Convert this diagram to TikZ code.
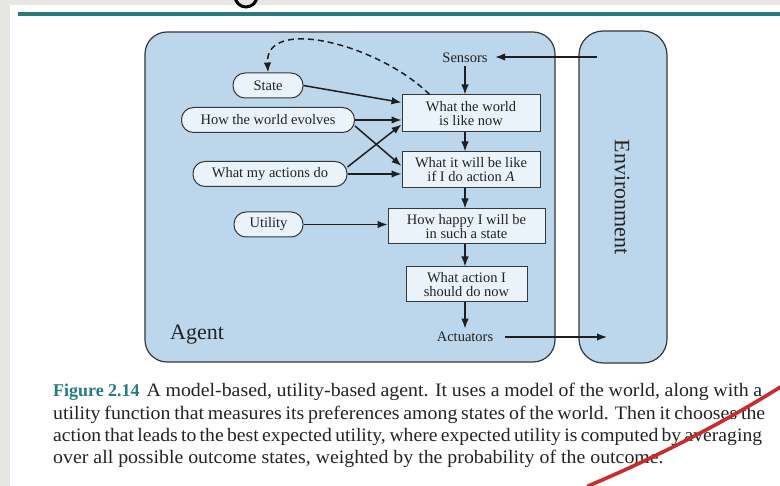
\documentclass[tikz,border=0pt]{standalone}
\usepackage{fontspec}
\setmainfont{Liberation Serif}
\newfontfamily\capserif{Liberation Serif}[FakeStretch=1.045]
\usetikzlibrary{arrows.meta,calc}
\definecolor{agentblue}{RGB}{188,214,236}
\definecolor{nodefill}{RGB}{234,242,250}
\definecolor{linec}{RGB}{55,55,55}
\definecolor{arrc}{RGB}{30,30,30}
\definecolor{textc}{RGB}{35,35,35}
\definecolor{tealc}{RGB}{38,122,128}
\definecolor{redc}{RGB}{200,44,44}
\definecolor{bggray}{RGB}{231,230,227}
\newcommand\dgfont{\fontsize{14.5}{14}\selectfont}
\newcommand\bigfont{\fontsize{22}{24}\selectfont}
\newcommand\capfont{\capserif\fontsize{19}{22}\selectfont}
\newcommand\figlabel{{\fontsize{18}{22}\rmfamily\bfseries\selectfont\textcolor{tealc}{Figure 2.14}}}
\begin{document}
\begin{tikzpicture}[x=1pt,y=-1pt,
  panel/.style={draw=linec, fill=agentblue, line width=1.2pt, rounded corners=22pt},
  pill/.style={draw=linec, fill=nodefill, line width=1pt, rounded corners=12pt, minimum height=25pt, inner sep=0pt, font=\dgfont, text=textc},
  boxnode/.style={draw=linec, fill=nodefill, line width=1pt, align=center, inner sep=0pt, font=\dgfont, text=textc},
  lbl/.style={font=\dgfont, text=textc},
  arr/.style={-{Latex[length=10pt,width=7.5pt]}, line width=1.5pt, draw=arrc},
  dasharr/.style={-{Latex[length=10pt,width=7.5pt]}, line width=1.5pt, draw=arrc, dash pattern=on 6pt off 4pt},
  captext/.style={font=\capfont, text=textc, inner sep=0pt, anchor=base west}]
\useasboundingbox (0,0) rectangle (780,486);
\fill[bggray] (0,0) rectangle (780,486);
\fill[white] (10,5) rectangle (780,486);
\draw[line width=3pt] (246,-4) circle (11);
\draw[tealc, line width=3.4pt] (18,14) -- (780,14);
% panels
\draw[panel] (145,32) rectangle (555,362);
\draw[panel, rounded corners=24pt] (579,31) rectangle (667,363);
% nodes
\node[lbl] (sensors) at (465,58) {Sensors};
\node[pill, minimum width=70pt] (state) at (268,85.5) {State};
\node[pill, minimum width=173pt] (evolves) at (268,120) {How the world evolves};
\node[pill, minimum width=154pt] (actions) at (270,174) {What my actions do};
\node[pill, minimum width=69pt] (utility) at (268.5,224.5) {Utility};
\node[boxnode, minimum width=138pt, minimum height=37pt] (world) at (471,113.5) {What the world\\is like now};
\node[boxnode, minimum width=138pt, minimum height=36pt] (willbe) at (471,170) {What it will be like\\if I do action \textit{A}};
\node[boxnode, minimum width=157pt, minimum height=35pt] (happy) at (466.5,226.5) {How happy I will be\\in such a state};
\node[boxnode, minimum width=121pt, minimum height=35pt] (action) at (466.5,284.5) {What action I\\should do now};
\node[lbl] (actuators) at (465,337) {Actuators};
\node[font=\bigfont, text=textc] (agent) at (197,335) {Agent};
\node[font=\bigfont, text=textc, rotate=-90] (env) at (622,197) {Environment};
\coordinate (sin) at (597,57);
\coordinate (aout) at (607,337);
% arrows
\draw[arr, shorten >=4pt] (sin) -- (sin -| sensors.east);
\draw[arr] (sensors.south) -- (sensors.south |- world.north);
\draw[arr] (world.south -| sensors) -- (willbe.north -| sensors);
\draw[arr] (willbe.south -| sensors) -- (happy.north -| sensors);
\draw[arr] (happy.south -| sensors) -- (action.north -| sensors);
\draw[arr] (action.south -| sensors) -- (actuators.north);
\draw[arr] ([xshift=8pt]actuators.east) -- (actuators.east -| aout);
\draw[arr] (state.east) -- ([yshift=11pt]world.west);
\draw[arr] (evolves.east) -- (evolves.east -| world.west);
\draw[arr] ([yshift=-6pt]evolves.east) -- ([yshift=4pt]willbe.west);
\draw[arr] (actions.east) -- (actions.east -| willbe.west);
\draw[arr] ([yshift=7pt]actions.east) -- ([yshift=-11pt]world.west);
\draw[arr] (utility.east) -- (utility.east -| happy.west);
\draw[dasharr] ([xshift=28pt]world.north west) .. controls (380,45) and (265,15) .. (state.north);
% caption
\node[captext] (c1) at (53,397) {\makebox[709pt][s]{\figlabel\hspace{7pt}A model-based, utility-based agent. It uses a model of the world, along with a}};
\node[captext] (c2) at (53,419.5) {\makebox[712pt][s]{utility function that measures its preferences among states of the world. Then it chooses the}};
\node[captext] (c3) at (53,441.5) {\scalebox{0.99}[1]{\makebox[716pt][s]{action that leads to the best expected utility, where expected utility is computed by averaging}}};
\node[captext] (c4) at (53,463.5) {over all possible outcome states, weighted by the probability of the outcome.};
% red stroke
\draw[redc, line width=3.6pt, line cap=round] (588,486) .. controls (650,460) and (720,425) .. (782,386);
\end{tikzpicture}
\end{document}
